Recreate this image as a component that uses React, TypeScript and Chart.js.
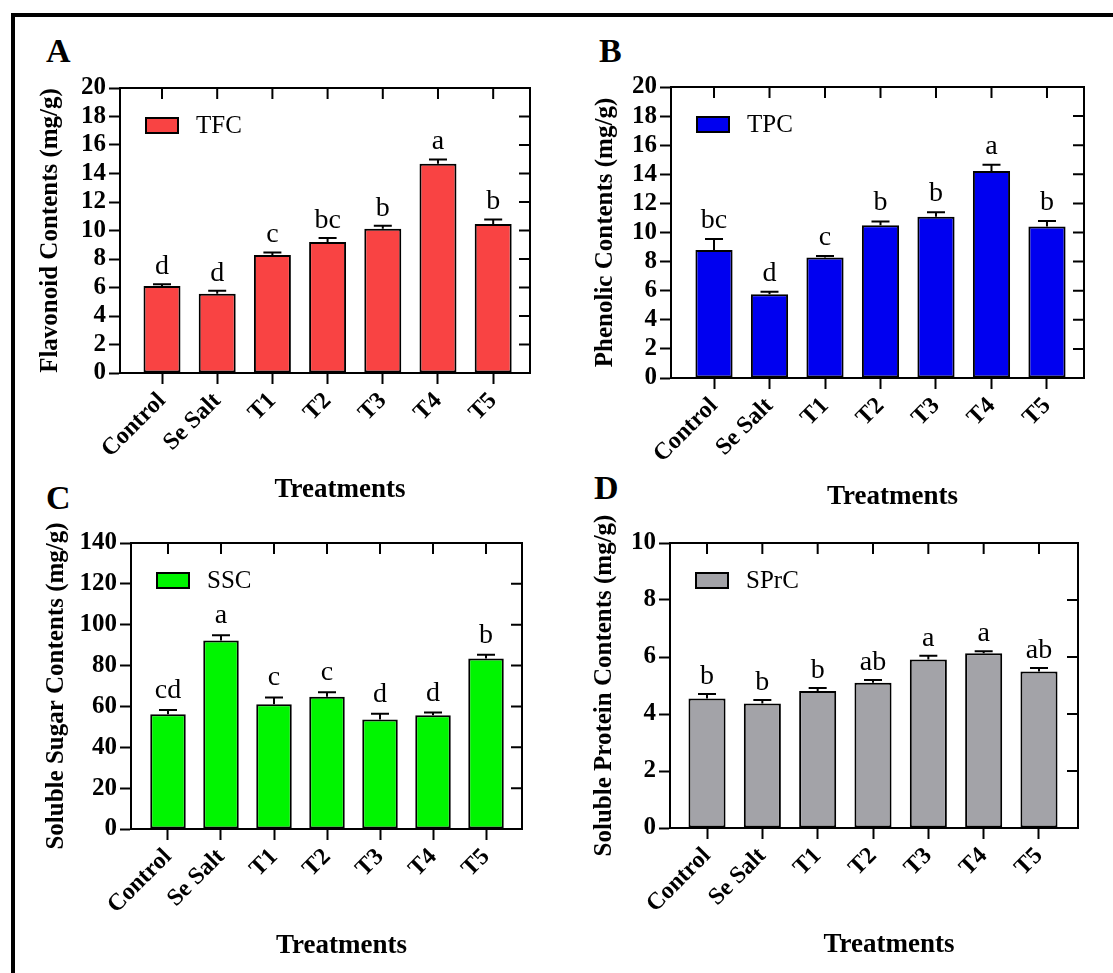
import React, { useEffect, useRef } from 'react';
import { Chart, registerables } from 'chart.js';

Chart.register(...registerables);

const FONT = "'Liberation Serif', 'Times New Roman', serif";
Chart.defaults.font.family = FONT;

// ---- data ----
const treatments = ['Control', 'Se Salt', 'T1', 'T2', 'T3', 'T4', 'T5'];
const xAxisTitle = 'Treatments';

const tfcValues = [6.1, 5.57, 8.28, 9.19, 10.13, 14.69, 10.46];
const tfcErrors = [0.12, 0.2, 0.18, 0.28, 0.2, 0.3, 0.32];
const tfcLetters = ['d', 'd', 'c', 'bc', 'b', 'a', 'b'];

const tpcValues = [8.8, 5.75, 8.29, 10.49, 11.09, 14.23, 10.42];
const tpcErrors = [0.75, 0.18, 0.1, 0.27, 0.3, 0.43, 0.37];
const tpcLetters = ['bc', 'd', 'c', 'b', 'b', 'a', 'b'];

const sscValues = [56.2, 92.3, 61.1, 64.7, 53.6, 55.7, 83.5];
const sscErrors = [2.0, 2.5, 3.3, 2.3, 2.8, 1.3, 1.8];
const sscLetters = ['cd', 'a', 'c', 'c', 'd', 'd', 'b'];

const sprcValues = [4.54, 4.37, 4.81, 5.1, 5.91, 6.13, 5.49];
const sprcErrors = [0.16, 0.12, 0.1, 0.09, 0.13, 0.07, 0.12];
const sprcLetters = ['b', 'b', 'b', 'ab', 'a', 'a', 'ab'];

const yMaxA = 20, yStepA = 2;
const yMaxB = 20, yStepB = 2;
const yMaxC = 140, yStepC = 20;
const yMaxD = 10, yStepD = 2;

type PanelCfg = {
  tag: string;
  tagPos: [number, number];
  legend: string;
  yTitle: string;
  values: number[];
  errors: number[];
  letters: string[];
  color: string;
  yMax: number;
  yStep: number;
  rect: { left: number; top: number; w: number; h: number };
  yAxisW: number;
  xAxisH: number;
  padTop: number;
  padRight: number;
  xMin: number;
  xMax: number;
  letterGap: number;
  xTitleDy: number;
};

const panels: PanelCfg[] = [
  {
    tag: 'A', tagPos: [46, 34], legend: 'TFC', yTitle: 'Flavonoid Contents (mg/g)',
    values: tfcValues, errors: tfcErrors, letters: tfcLetters, color: '#F94343',
    yMax: yMaxA, yStep: yStepA,
    rect: { left: 36, top: 58, w: 504, h: 445 }, yAxisW: 84, xAxisH: 130, padTop: 30, padRight: 10,
    xMin: -0.761, xMax: 6.667, letterGap: 10, xTitleDy: 117,
  },
  {
    tag: 'B', tagPos: [599, 34], legend: 'TPC', yTitle: 'Phenolic Contents (mg/g)',
    values: tpcValues, errors: tpcErrors, letters: tpcLetters, color: '#0000F0',
    yMax: yMaxB, yStep: yStepB,
    rect: { left: 591, top: 57, w: 503, h: 453 }, yAxisW: 80, xAxisH: 132, padTop: 30, padRight: 10,
    xMin: -0.775, xMax: 6.667, letterGap: 11, xTitleDy: 119,
  },
  {
    tag: 'C', tagPos: [46, 481], legend: 'SSC', yTitle: 'Soluble Sugar Contents (mg/g)',
    values: sscValues, errors: sscErrors, letters: sscLetters, color: '#00F500',
    yMax: yMaxC, yStep: yStepC,
    rect: { left: 42, top: 513, w: 490, h: 446 }, yAxisW: 89, xAxisH: 130, padTop: 30, padRight: 10,
    xMin: -0.698, xMax: 6.679, letterGap: 12, xTitleDy: 117,
  },
  {
    tag: 'D', tagPos: [594, 471], legend: 'SPrC', yTitle: 'Soluble Protein Contents (mg/g)',
    values: sprcValues, errors: sprcErrors, letters: sprcLetters, color: '#A3A3A8',
    yMax: yMaxD, yStep: yStepD,
    rect: { left: 590, top: 513, w: 498, h: 445 }, yAxisW: 80, xAxisH: 130, padTop: 30, padRight: 10,
    xMin: -0.669, xMax: 6.705, letterGap: 10, xTitleDy: 117,
  },
];

function makeExtrasPlugin(cfg: PanelCfg) {
  return {
    id: 'panelExtras' + cfg.tag,
    afterDatasetsDraw(chart: any) {
      const ctx = chart.ctx;
      const y = chart.scales.y;
      const meta = chart.getDatasetMeta(0);
      ctx.save();
      ctx.strokeStyle = '#000';
      ctx.lineWidth = 2;
      meta.data.forEach((el: any, i: number) => {
        const v = cfg.values[i];
        const top = y.getPixelForValue(v);
        const cap = y.getPixelForValue(v + cfg.errors[i]);
        ctx.beginPath();
        ctx.moveTo(el.x, top);
        ctx.lineTo(el.x, cap);
        ctx.moveTo(el.x - 9, cap);
        ctx.lineTo(el.x + 9, cap);
        ctx.stroke();
        ctx.fillStyle = '#000';
        ctx.font = `28px ${FONT}`;
        ctx.textAlign = 'center';
        ctx.textBaseline = 'alphabetic';
        ctx.fillText(cfg.letters[i], el.x, cap - cfg.letterGap);
      });
      ctx.restore();
    },
    afterDraw(chart: any) {
      const ctx = chart.ctx;
      const { left, right, top, bottom } = chart.chartArea;
      const xs = chart.scales.x;
      const ys = chart.scales.y;
      ctx.save();
      ctx.strokeStyle = '#000';
      ctx.lineWidth = 2;
      ctx.strokeRect(left, top, right - left, bottom - top);
      ctx.beginPath();
      ys.ticks.forEach((t: any) => {
        const py = ys.getPixelForValue(t.value);
        ctx.moveTo(right, py);
        ctx.lineTo(right - 11, py);
      });
      xs.ticks.forEach((t: any) => {
        const px = xs.getPixelForValue(t.value);
        ctx.moveTo(px, top);
        ctx.lineTo(px, top + 11);
      });
      ctx.stroke();
      // legend
      const bx = left + 26, by = top + 30;
      ctx.fillStyle = cfg.color;
      ctx.fillRect(bx, by, 32, 15);
      ctx.strokeRect(bx, by, 32, 15);
      ctx.fillStyle = '#000';
      ctx.font = `25px ${FONT}`;
      ctx.textAlign = 'left';
      ctx.textBaseline = 'middle';
      ctx.fillText(cfg.legend, left + 76, by + 8);
      // x axis title
      ctx.font = `bold 27px ${FONT}`;
      ctx.textAlign = 'center';
      ctx.textBaseline = 'middle';
      ctx.fillText(xAxisTitle, (left + right) / 2 + 15, bottom + cfg.xTitleDy);
      ctx.restore();
    },
  };
}

function Panel({ cfg }: { cfg: PanelCfg }) {
  const ref = useRef<HTMLCanvasElement>(null);
  useEffect(() => {
    if (!ref.current) return;
    const chart = new Chart(ref.current, {
      type: 'bar',
      data: {
        datasets: [
          {
            label: cfg.legend,
            data: cfg.values.map((v, i) => ({ x: i, y: v })),
            backgroundColor: cfg.color,
            borderColor: '#000',
            borderWidth: 2,
            borderSkipped: false,
            categoryPercentage: 1,
            barPercentage: 0.67,
          },
        ],
      },
      options: {
        responsive: false,
        animation: false,
        devicePixelRatio: 1,
        layout: { padding: { left: 0, top: cfg.padTop, right: cfg.padRight, bottom: 0 } },
        plugins: { legend: { display: false }, tooltip: { enabled: false } },
        scales: {
          x: {
            type: 'linear',
            min: cfg.xMin,
            max: cfg.xMax,
            offset: false,
            afterBuildTicks: (axis: any) => {
              axis.ticks = treatments.map((_, i) => ({ value: i }));
            },
            afterFit: (axis: any) => {
              axis.height = cfg.xAxisH;
            },
            ticks: {
              autoSkip: false,
              maxRotation: 45,
              minRotation: 45,
              padding: 3,
              color: '#000',
              font: { size: 24, weight: 'bold' },
              callback: (v: any) => treatments[Math.round(Number(v))] ?? '',
            },
            grid: { display: true, offset: false, drawOnChartArea: false, drawTicks: true, tickLength: 11, tickWidth: 2, tickColor: '#000' },
            border: { display: true, color: '#000', width: 2 },
            title: { display: false },
          },
          y: {
            type: 'linear',
            min: 0,
            max: cfg.yMax,
            afterFit: (axis: any) => {
              axis.width = cfg.yAxisW;
            },
            ticks: { stepSize: cfg.yStep, autoSkip: false, color: '#000', padding: 3, font: { size: 25, weight: 'bold' } },
            grid: { display: true, drawOnChartArea: false, drawTicks: true, tickLength: 11, tickWidth: 2, tickColor: '#000' },
            border: { display: true, color: '#000', width: 2 },
            title: { display: true, text: cfg.yTitle, color: '#000', font: { size: 25, weight: 'bold' }, padding: { top: 0, bottom: 0 } },
          },
        },
      } as any,
      plugins: [makeExtrasPlugin(cfg)],
    });
    return () => chart.destroy();
  }, []);
  const { left, top, w, h } = cfg.rect;
  return (
    <canvas
      ref={ref}
      width={w}
      height={h}
      style={{ position: 'absolute', left, top, width: w, height: h }}
    />
  );
}

export default function App() {
  return (
    <div
      style={{
        position: 'fixed',
        left: 0,
        top: 0,
        width: 1113,
        height: 973,
        overflow: 'hidden',
        background: '#fff',
        fontFamily: FONT,
      }}
    >
      <div
        style={{
          position: 'absolute',
          left: 11,
          top: 13,
          width: 1200,
          height: 1100,
          borderLeft: '4px solid #000',
          borderTop: '4px solid #000',
        }}
      />
      {panels.map((p) => (
        <div
          key={'tag' + p.tag}
          style={{
            position: 'absolute',
            left: p.tagPos[0],
            top: p.tagPos[1],
            fontSize: 34,
            lineHeight: '34px',
            fontWeight: 'bold',
            color: '#000',
          }}
        >
          {p.tag}
        </div>
      ))}
      {panels.map((p) => (
        <Panel key={p.tag} cfg={p} />
      ))}
    </div>
  );
}
